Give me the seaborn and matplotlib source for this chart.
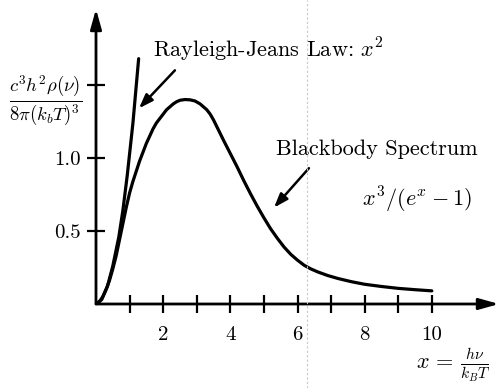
import matplotlib
matplotlib.use("Agg")
import matplotlib.pyplot as plt
import seaborn as sns
import pandas as pd
from matplotlib.lines import Line2D

# Blackbody spectrum x^3/(e^x - 1), read point by point
bb_x = [0.0, 0.1, 0.2, 0.3, 0.4, 0.5, 0.6, 0.7, 0.8, 0.9, 1.0, 1.1, 1.2, 1.3, 1.4, 1.5,
        1.6, 1.7, 1.8, 1.9, 2.0, 2.1, 2.2, 2.3, 2.4, 2.5, 2.65, 2.8, 2.95, 3.1, 3.2,
        3.3, 3.4, 3.5, 3.65, 3.8, 4.0, 4.2, 4.4, 4.6, 4.8, 5.0, 5.2, 5.4, 5.6, 5.8,
        6.0, 6.2, 6.4, 6.6, 6.9, 7.2, 7.6, 8.0, 8.5, 9.0, 9.5, 10.0]
bb_y = [0.0, 0.015, 0.05, 0.10, 0.16, 0.24, 0.33, 0.44, 0.55, 0.66, 0.76, 0.84, 0.91, 0.98,
        1.04, 1.10, 1.15, 1.20, 1.24, 1.27, 1.30, 1.33, 1.35, 1.37, 1.385, 1.395, 1.40, 1.398,
        1.39, 1.37, 1.35, 1.33, 1.30, 1.26, 1.19, 1.12, 1.03, 0.94, 0.845, 0.755, 0.67, 0.59,
        0.515, 0.45, 0.39, 0.34, 0.30, 0.265, 0.24, 0.22, 0.195, 0.175, 0.153, 0.135, 0.12,
        0.107, 0.098, 0.09]

# Rayleigh-Jeans law x^2 at low frequency
rj_x = [0.0, 0.17, 0.34, 0.5, 0.68, 0.8, 0.93, 1.1, 1.27]
rj_y = [0.0, 0.03, 0.12, 0.26, 0.46, 0.64, 0.88, 1.24, 1.68]

x_ticks = [1, 2, 3, 4, 5, 6, 7, 8, 9, 10]
x_ticklabels = ["", "2", "", "4", "", "6", "", "8", "", "10"]
y_ticks = [0.5, 1.0, 1.5]
y_ticklabels = ["0.5", "1.0", ""]

sns.set_theme(style="white")
plt.rcParams["font.family"] = ["cmr10"]
plt.rcParams["mathtext.fontset"] = "cm"
plt.rcParams["axes.unicode_minus"] = False

bb = pd.DataFrame({"x": bb_x, "y": bb_y})
rj = pd.DataFrame({"x": rj_x, "y": rj_y})

fig = plt.figure(figsize=(4.98, 3.88), dpi=100)
ax = fig.add_axes([96 / 498, 84 / 388, 403 / 498, 295 / 388])

sns.lineplot(data=bb, x="x", y="y", ax=ax, color="black", lw=2.3, sort=False)
sns.lineplot(data=rj, x="x", y="y", ax=ax, color="black", lw=2.3, sort=False)

ax.set_xlim(0, 12)
ax.set_ylim(0, 2.02)
for s in ax.spines.values():
    s.set_visible(False)

ax.set_xticks(x_ticks)
ax.set_xticklabels(x_ticklabels)
ax.set_yticks(y_ticks)
ax.set_yticklabels(y_ticklabels)
ax.tick_params(axis="both", direction="inout", length=13.5, width=1.6,
               color="black", labelsize=15, labelcolor="black")
ax.tick_params(axis="x", pad=9, bottom=True)
ax.tick_params(axis="y", pad=4, left=True)
ax.set_xlabel("")
ax.set_ylabel("")

# axes with arrow heads
arrow = dict(arrowstyle="-|>,head_length=1.0,head_width=0.28", lw=2.0, color="black",
             shrinkA=0, shrinkB=0)
ax.annotate("", xy=(12.0, 0), xytext=(0, 0), arrowprops=arrow, annotation_clip=False)
ax.annotate("", xy=(0, 2.02), xytext=(0, 0), arrowprops=arrow, annotation_clip=False)

# axis labels
ax.text(-0.42, 1.40, r"$\dfrac{c^3h^2\rho(\nu)}{8\pi(k_bT)^3}$", ha="right", va="center",
        fontsize=13.5, color="black")
ax.text(11.75, -0.42, r"$x\,=\,\frac{h\nu}{k_BT}$", ha="right", va="center",
        fontsize=16, color="black")

# annotations
pointer = dict(arrowstyle="-|>,head_length=0.7,head_width=0.25", lw=1.8, color="black",
               shrinkA=0, shrinkB=0)
ax.text(1.70, 1.74, r"Rayleigh-Jeans Law: $x^2$", ha="left", va="center",
        fontsize=16, color="black")
ax.annotate("", xy=(1.28, 1.34), xytext=(2.35, 1.60), arrowprops=pointer)
ax.text(5.36, 1.06, "Blackbody Spectrum", ha="left", va="center",
        fontsize=16, color="black")
ax.annotate("", xy=(5.30, 0.66), xytext=(6.34, 0.93), arrowprops=pointer)
ax.text(11.2, 0.71, r"$x^3/(e^x-1)$", ha="right", va="center",
        fontsize=16, color="black")

# faint fold line across the page
fig.add_artist(Line2D([307 / 498, 307 / 498], [0, 1], transform=fig.transFigure,
                      color="#c8c8c8", lw=0.8, ls=(0, (2, 2))))

fig.savefig("out.png", dpi=100)
